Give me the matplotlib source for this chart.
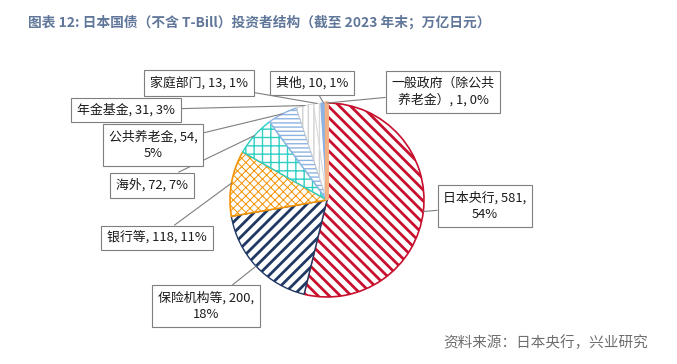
import numpy as np
import matplotlib
matplotlib.use("Agg")
import matplotlib.pyplot as plt

plt.rcParams['font.family'] = ['Noto Sans CJK SC', 'DejaVu Sans']

# ---- data ----
categories = ["日本央行", "保险机构等", "银行等", "海外", "公共养老金",
              "年金基金", "家庭部门", "其他", "一般政府（除公共养老金）"]
values = [581, 200, 118, 72, 54, 31, 13, 10, 1]
percents = [54, 18, 11, 7, 5, 3, 1, 1, 0]
label_texts = ["日本央行, 581,\n54%", "保险机构等, 200,\n18%", "银行等, 118, 11%",
               "海外, 72, 7%", "公共养老金, 54,\n5%", "年金基金, 31, 3%",
               "家庭部门, 13, 1%", "其他, 10, 1%", "一般政府（除公共\n养老金）, 1, 0%"]

# ---- styles / layout ----
W, H = 677, 364
edge_colors = ["#C8102E", "#1F3864", "#F39200", "#2ECFC4", "#8DB3E2",
               "#D0D0D0", "#D9D9D9", "#8DB3E2", "#F4B183"]
face_colors = ["white", "white", "white", "white", "white",
               "white", "white", "#8DB3E2", "#F4B183"]
hatches = ["\\\\\\", "///", "xxxx", "++", "----", "|||", "|||", None, None]
hatch_lws = [2.0, 2.0, 0.7, 1.0, 1.0, 1.0, 1.0, 1.0, 1.0]
edge_lws = [1.2, 1.0, 1.2, 1.0, 1.0, 0.6, 0.6, 0.8, 2.5]
label_pos_px = [(485, 206), (206, 306), (157, 238), (152, 185), (153, 145),
                (126, 110), (199, 83), (312, 83), (443, 92)]
center_px = (327, 200)
radius = 97

fig = plt.figure(figsize=(W / 100, H / 100), dpi=100)
ax = fig.add_axes([0, 0, 1, 1])

cx, cy = center_px[0], H - center_px[1]
wedges, _ = ax.pie(values, startangle=90, counterclock=False,
                   center=(cx, cy), radius=radius,
                   wedgeprops=dict(linewidth=1.0))
ax.set_xlim(0, W)
ax.set_ylim(0, H)
ax.set_aspect('equal', adjustable='box')
ax.axis('off')

for w, fc, ec, ht, hlw, elw in zip(wedges, face_colors, edge_colors, hatches, hatch_lws, edge_lws):
    w.set_facecolor(fc)
    w.set_edgecolor(ec)
    w.set_linewidth(elw)
    if ht:
        w.set_hatch(ht)
        if hasattr(w, "set_hatch_linewidth"):
            w.set_hatch_linewidth(hlw)

for w, txt, (lx, ly) in zip(wedges, label_texts, label_pos_px):
    ang = np.deg2rad((w.theta1 + w.theta2) / 2)
    px = cx + w.r * np.cos(ang)
    py = cy + w.r * np.sin(ang)
    ax.annotate(txt, xy=(px, py), xytext=(lx, H - ly),
                ha='center', va='center', fontsize=9.3, color='#1a1a1a',
                linespacing=1.35,
                bbox=dict(boxstyle='square,pad=0.45', fc='white', ec='#7F7F7F', lw=0.8),
                arrowprops=dict(arrowstyle='-', color='#7F7F7F', lw=0.8,
                                shrinkA=0, shrinkB=0))

fig.text(28 / W, 1 - 22 / H, "图表 12: 日本国债（不含 T-Bill）投资者结构（截至 2023 年末；万亿日元）",
         ha='left', va='center', fontsize=9.9, fontweight='bold', color='#60779A')
fig.text(443 / W, 1 - 343 / H, "资料来源：日本央行，兴业研究",
         ha='left', va='center', fontsize=10.5, color='#6E6E6E')

fig.savefig("out.png", dpi=100)
